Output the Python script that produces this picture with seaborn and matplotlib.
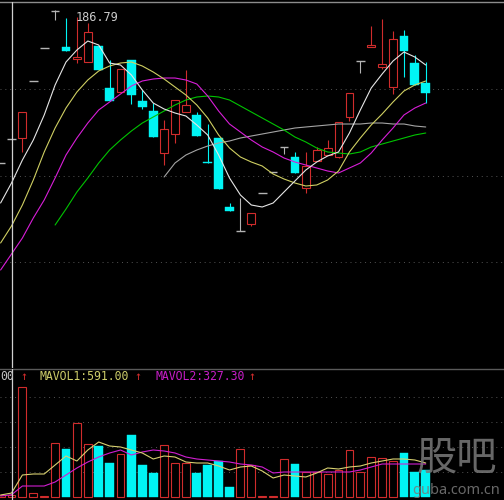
import numpy as np
import pandas as pd
import matplotlib
matplotlib.use("Agg")
import matplotlib.pyplot as plt
import seaborn as sns

# ---------------- data ----------------
opens = [115.83, 126.93, 127.39, 153.75, 169.00, 185.90, 169.47, 163.92, 162.53, 169.93,
         150.51, 148.66, 163.46, 144.50, 139.87, 120.45, 129.24, 139.41, 138.02, 116.29,
         127.39, 95.48, 84.39, 87.62, 101.96, 111.67, 123.23, 118.60, 104.27, 116.75,
         119.53, 118.60, 137.10, 162.99, 169.47, 160.22, 150.97, 174.55, 162.07, 152.82]
closes = [115.83, 126.93, 139.41, 153.75, 169.00, 185.90, 167.62, 164.84, 176.40, 158.83,
          144.50, 159.29, 147.27, 141.72, 127.85, 131.55, 144.96, 142.65, 128.31, 115.83,
          103.81, 93.63, 84.39, 92.71, 101.96, 111.67, 123.23, 111.20, 114.44, 121.84,
          122.76, 134.79, 148.20, 162.99, 170.39, 161.61, 173.17, 167.62, 151.90, 148.20]
highs = [115.83, 126.93, 139.41, 153.75, 169.00, 186.79, 182.88, 183.34, 180.56, 169.93,
         163.46, 159.29, 163.46, 149.58, 143.57, 135.71, 144.96, 158.83, 139.41, 133.86,
         127.39, 97.33, 99.64, 92.71, 101.96, 111.67, 123.23, 120.92, 120.92, 123.23,
         126.46, 134.79, 148.20, 162.99, 179.18, 182.41, 176.87, 177.33, 165.77, 162.53]
lows = [115.83, 126.93, 120.92, 153.75, 169.00, 181.95, 167.62, 162.07, 162.53, 158.83,
        144.50, 148.66, 143.11, 140.80, 127.85, 114.90, 125.08, 139.41, 128.31, 115.83,
        103.81, 93.63, 84.39, 86.70, 101.96, 111.67, 119.99, 111.20, 101.96, 116.75,
        119.53, 118.14, 135.25, 157.44, 169.47, 159.29, 147.73, 155.60, 151.90, 143.57]

ma5 = [97.33, 106.58, 117.22, 126.46, 138.02, 151.90, 162.53, 168.08, 172.24, 170.39,
       162.07, 161.14, 156.52, 149.58, 143.57, 140.80, 138.95, 137.56, 133.40, 128.78,
       119.53, 108.89, 101.03, 96.41, 95.48, 97.33, 102.42, 107.51, 112.59, 116.29,
       119.07, 120.92, 129.70, 140.34, 150.51, 156.98, 162.99, 167.16, 164.84, 161.14]
ma10 = [78.84, 86.70, 96.41, 107.97, 120.92, 132.01, 141.26, 148.66, 154.21, 158.37,
        160.68, 162.07, 162.53, 160.68, 157.91, 154.67, 150.97, 147.27, 142.65, 136.64,
        128.78, 122.76, 118.60, 116.29, 114.44, 110.74, 108.43, 106.58, 105.19, 105.66,
        107.97, 112.13, 120.92, 127.39, 133.40, 138.49, 144.04, 149.12, 151.90, 153.75]
ma20 = [66.35, 73.75, 81.15, 90.40, 98.72, 108.89, 119.53, 127.39, 134.32, 140.34,
        144.04, 147.73, 151.43, 153.75, 154.67, 155.13, 155.13, 154.21, 152.36, 146.81,
        139.87, 133.86, 130.16, 126.46, 123.23, 120.92, 118.14, 116.29, 114.90, 113.52,
        112.13, 111.21, 113.52, 115.83, 120.45, 126.46, 132.01, 138.02, 141.26, 143.57]
ma30_start = 5
ma30 = [87.16, 94.56, 102.42, 108.89, 115.83, 121.84, 126.46, 130.63, 134.32, 137.10,
        139.87, 142.65, 144.96, 146.35, 146.81, 146.35, 144.96, 142.19, 139.41, 136.64,
        133.86, 131.09, 127.85, 125.54, 122.76, 120.92, 120.45, 119.99, 120.92, 123.23,
        124.61, 126.00, 127.39, 128.78, 129.70]
ma60_start = 15
ma60 = [109.36, 115.83, 119.53, 121.84, 123.69, 125.08, 126.00, 127.39, 128.31, 129.24,
        130.16, 131.09, 132.01, 132.48, 132.94, 133.40, 133.86, 133.86, 133.86, 134.32,
        134.32, 133.86, 133.86, 132.94, 132.48]

volumes = [300, 300, 16500, 600, 150, 8100, 7200, 11100, 7950, 7650,
           5100, 6450, 9300, 4800, 3600, 7800, 5100, 5100, 3600, 4800,
           5400, 1500, 7200, 4800, 150, 150, 5700, 4950, 3750, 3750,
           3450, 4050, 7050, 3750, 6000, 5850, 5400, 6600, 3750, 4050]
mavol1 = [300, 591, 3300, 3450, 3450, 4800, 6150, 5400, 7050, 8250,
          7650, 7500, 7050, 6600, 5700, 6150, 6000, 5250, 5100, 5100,
          4650, 4050, 4500, 4650, 3900, 2850, 3300, 3150, 3000, 3600,
          4350, 4200, 4500, 4650, 5100, 5400, 5700, 5700, 5550, 5100]
mavol2 = [150, 327.3, 1650, 1650, 1650, 2250, 3300, 4350, 5250, 6000,
          6600, 7050, 6300, 6750, 7050, 6900, 6600, 6000, 5700, 5550,
          5400, 5250, 4950, 4800, 4500, 3600, 3750, 3750, 3750, 3750,
          3750, 3750, 3750, 4050, 4500, 4950, 4950, 4950, 4950, 4950]

price_grid = [70, 110, 150]
vol_grid = [3750, 7500, 11250, 15000]
high_label = "186.79"
vol_label_tail = "00"
mavol1_label = "MAVOL1:591.00"
mavol2_label = "MAVOL2:327.30"
cursor_index = 1.07

# ---------------- style ----------------
sns.set_theme(style="dark", rc={"axes.facecolor": "black", "figure.facecolor": "black",
                                 "savefig.facecolor": "black"})
plt.rcParams["font.family"] = ["DejaVu Sans Mono", "DejaVu Sans"]

RED = "#d02c2c"
CYAN = "#00f4f4"
FLAT = "#b4b4b4"
C_MA5 = "#e6e6e6"
C_MA10 = "#cfcf62"
C_MA20 = "#d81ed8"
C_MA30 = "#00c400"
C_MA60 = "#a4a4a4"
MLW = 0.8

o = np.array(opens); c = np.array(closes); h = np.array(highs); l = np.array(lows)
n = len(o)
x = np.arange(n)
up = c > o
dn = c < o
fl = c == o

fig = plt.figure(figsize=(5.04, 5.0), dpi=100)
ax = fig.add_axes([0, 132 / 500, 1, 366 / 500])
axv = fig.add_axes([0, 0, 1, 131 / 500])
for a in (ax, axv):
    a.set_facecolor("black")
    a.set_xlim(-0.055, 46.18)
    a.set_xticks([])
    a.tick_params(left=False, bottom=False, labelleft=False, labelbottom=False)
    for s in ("left", "right", "bottom"):
        a.spines[s].set_visible(False)
ax.spines["top"].set_color("#8c8c8c")
ax.spines["top"].set_linewidth(1.0)
axv.spines["top"].set_color("#5a5a5a")
axv.spines["top"].set_linewidth(1.0)

ax.set_ylim(21.03, 190.28)
axv.set_ylim(-450, 19200)

# dotted grid
for p in price_grid:
    ax.axhline(p, color="#545454", lw=0.7, ls=(0, (1, 4)), zorder=0)
for v in vol_grid:
    axv.axhline(v, color="#545454", lw=0.7, ls=(0, (1, 4)), zorder=0)

# ---------------- candles ----------------
LW = 0.8
bw_up = 0.72
bw_dn = 0.80
xu = x[up]
ax.vlines(xu, c[up], h[up], color=RED, lw=LW, zorder=2)
ax.vlines(xu, l[up], o[up], color=RED, lw=LW, zorder=2)
ax.bar(xu, c[up] - o[up], bottom=o[up], width=bw_up, facecolor="black",
       edgecolor=RED, linewidth=LW, zorder=3)
xd = x[dn]
ax.vlines(xd, l[dn], h[dn], color=CYAN, lw=LW, zorder=2)
ax.bar(xd, o[dn] - c[dn], bottom=c[dn], width=bw_dn, color=CYAN,
       edgecolor=CYAN, linewidth=0.3, zorder=3)
xf = x[fl]
ax.vlines(xf, l[fl], h[fl], color=FLAT, lw=LW, zorder=2)
ax.hlines(c[fl], xf - 0.4, xf + 0.4, color=FLAT, lw=1.0, zorder=3)

# moving averages via seaborn
sns.lineplot(x=x[ma60_start:], y=ma60, ax=ax, color=C_MA60, lw=MLW, zorder=4)
sns.lineplot(x=x[ma30_start:], y=ma30, ax=ax, color=C_MA30, lw=MLW, zorder=4)
sns.lineplot(x=x, y=ma20, ax=ax, color=C_MA20, lw=MLW, zorder=4)
sns.lineplot(x=x, y=ma10, ax=ax, color=C_MA10, lw=MLW, zorder=4)
sns.lineplot(x=x, y=ma5, ax=ax, color=C_MA5, lw=MLW, zorder=5)
ax.set_xlabel(""); ax.set_ylabel("")

ax.text(6.83, 183.34, high_label, color="#cccccc", fontsize=8.6,
        ha="left", va="center", zorder=6)

# ---------------- volume ----------------
vol = np.array(volumes)
vu = ~dn
axv.bar(x[vu], vol[vu], width=bw_up, facecolor="black", edgecolor=RED,
        linewidth=LW, zorder=2)
axv.bar(x[dn], vol[dn], width=bw_dn, color=CYAN, edgecolor=CYAN, linewidth=0.3, zorder=2)
sns.lineplot(x=x, y=mavol2, ax=axv, color="#d01ed0", lw=MLW, zorder=4)
sns.lineplot(x=x, y=mavol1, ax=axv, color="#d8d070", lw=MLW, zorder=4)
axv.set_xlabel(""); axv.set_ylabel("")
axv.set_yticks([])

# cursor line
for a in (ax, axv):
    a.axvline(cursor_index, color="#d0d0d0", lw=0.9, zorder=6)

# ---------------- header texts in volume panel ----------------
def ft(px, py, s, **kw):
    fig.text(px / 504, 1 - py / 500, s, **kw)

ty = 377
ft(0, ty, vol_label_tail, color="#c4c4c4", fontsize=8.3, ha="left", va="center")
ft(24, ty, "↑", color=RED, fontsize=8.3, ha="center", va="center")
ft(40, ty, mavol1_label, color="#cdcd6a", fontsize=8.3, ha="left", va="center")
ft(138, ty, "↑", color=RED, fontsize=8.3, ha="center", va="center")
ft(155, ty, mavol2_label, color="#c81ec8", fontsize=8.3, ha="left", va="center")
ft(252, ty, "↑", color=RED, fontsize=8.3, ha="center", va="center")

# watermark
ft(457, 458, "股吧", color="#7a7a7a", alpha=0.85, fontsize=29,
   family=["Noto Sans CJK SC", "DejaVu Sans"], ha="center", va="center")
ft(456, 490, "guba.com.cn", color="#7a7a7a", alpha=0.85, fontsize=10.5,
   family=["Noto Sans", "DejaVu Sans"], ha="center", va="center")

fig.savefig("out.png", dpi=100, facecolor="black")
